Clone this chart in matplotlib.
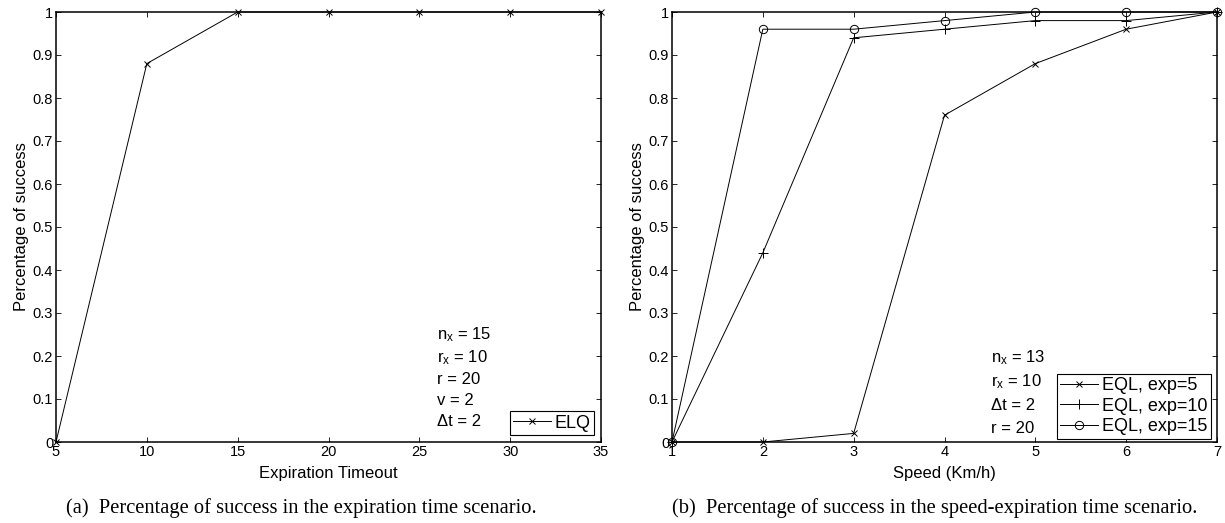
import matplotlib
matplotlib.use("Agg")
import matplotlib.pyplot as plt

# ---- data ----
exp_timeout = [5, 10, 15, 20, 25, 30, 35]
elq_success = [0, 0.88, 1, 1, 1, 1, 1]

speed = [1, 2, 3, 4, 5, 6, 7]
eql_exp5 = [0, 0, 0.02, 0.76, 0.88, 0.96, 1]
eql_exp10 = [0, 0.44, 0.94, 0.96, 0.98, 0.98, 1]
eql_exp15 = [0, 0.96, 0.96, 0.98, 1, 1, 1]

yticks = [0, 0.1, 0.2, 0.3, 0.4, 0.5, 0.6, 0.7, 0.8, 0.9, 1]
ytick_labels = ["0", "0.1", "0.2", "0.3", "0.4", "0.5", "0.6", "0.7", "0.8", "0.9", "1"]

left_notes = ["$n_x$ = 15", "$r_x$ = 10", "r = 20", "v = 2", "\u0394t = 2"]
right_notes = ["$n_x$ = 13", "$r_x$ = 10", "\u0394t = 2", "r = 20"]

caption_a = "(a)  Percentage of success in the expiration time scenario."
caption_b = "(b)  Percentage of success in the speed-expiration time scenario."

# ---- style ----
plt.rcParams['font.family'] = ['Liberation Sans', 'DejaVu Sans']
plt.rcParams['mathtext.fontset'] = 'custom'
plt.rcParams['mathtext.rm'] = 'Liberation Sans'
plt.rcParams['mathtext.it'] = 'Liberation Sans'
plt.rcParams['mathtext.default'] = 'regular'
TICK_FS = 10.5
LABEL_FS = 12
NOTE_FS = 12
LEG_FS = 13

W, H = 1225, 523
fig = plt.figure(figsize=(W / 100, H / 100), dpi=100)


def px_axes(x0, y0, x1, y1):
    return fig.add_axes([x0 / W, 1 - y1 / H, (x1 - x0) / W, (y1 - y0) / H])


def style(ax):
    ax.set_ylim(0, 1)
    ax.set_yticks(yticks)
    ax.set_yticklabels(ytick_labels)
    ax.tick_params(direction='in', length=3.5, width=0.6, top=True, right=True,
                   labelsize=TICK_FS, pad=2, colors='black')
    for s in ax.spines.values():
        s.set_linewidth(1.1)
        s.set_color('black')


ax1 = px_axes(56, 12, 601, 442)
ax2 = px_axes(672, 12, 1217, 442)

# left plot
ax1.plot(exp_timeout, elq_success, color='black', lw=0.7, marker='x', ms=4.5, mew=0.7,
         label='ELQ', clip_on=False)
ax1.set_xlim(5, 35)
ax1.set_xticks(exp_timeout)
style(ax1)
ax1.set_xlabel('Expiration Timeout', fontsize=LABEL_FS, labelpad=5)
ax1.set_ylabel('Percentage of success', fontsize=LABEL_FS, labelpad=3)
leg1 = ax1.legend(loc='lower right', bbox_to_anchor=(0.988, 0.016), borderaxespad=0,
                  fancybox=False, edgecolor='black', framealpha=1, fontsize=LEG_FS,
                  handlelength=2.1, handletextpad=0.2, borderpad=0.2)
leg1.get_frame().set_linewidth(0.8)

# right plot
ax2.plot(speed, eql_exp5, color='black', lw=0.7, marker='x', ms=4.5, mew=0.7,
         label='EQL, exp=5', clip_on=False)
ax2.plot(speed, eql_exp10, color='black', lw=0.7, marker='+', ms=7, mew=0.7,
         label='EQL, exp=10', clip_on=False)
ax2.plot(speed, eql_exp15, color='black', lw=0.7, marker='o', ms=6, mew=0.7,
         mfc='none', label='EQL, exp=15', clip_on=False)
ax2.set_xlim(1, 7)
ax2.set_xticks(speed)
style(ax2)
ax2.set_xlabel('Speed (Km/h)', fontsize=LABEL_FS, labelpad=5)
ax2.set_ylabel('Percentage of success', fontsize=LABEL_FS, labelpad=3)
leg2 = ax2.legend(loc='lower right', bbox_to_anchor=(0.989, 0.007), borderaxespad=0,
                  fancybox=False, edgecolor='black', framealpha=1, fontsize=LEG_FS,
                  handlelength=2.1, handletextpad=0.2, borderpad=0.2, labelspacing=0.2)
leg2.get_frame().set_linewidth(0.8)

# annotations (baseline pixel positions)
left_base = [339, 362, 384, 405, 426]
for txt, yb in zip(left_notes, left_base):
    ax1.text((437 - 56) / 545, (442 - yb) / 430, txt, transform=ax1.transAxes,
             fontsize=NOTE_FS, va='baseline', ha='left')
right_base = [362, 386, 410, 433]
for txt, yb in zip(right_notes, right_base):
    ax2.text((991 - 672) / 545, (442 - yb) / 430, txt, transform=ax2.transAxes,
             fontsize=NOTE_FS, va='baseline', ha='left')

# captions
cap_kw = dict(fontsize=14.8, family=['Liberation Serif', 'DejaVu Serif'],
              ha='center', va='center')
fig.text(301 / W, 1 - 508 / H, caption_a, **cap_kw)
fig.text(935 / W, 1 - 508 / H, caption_b, **cap_kw)

fig.savefig('out.png', dpi=100, facecolor='white')
